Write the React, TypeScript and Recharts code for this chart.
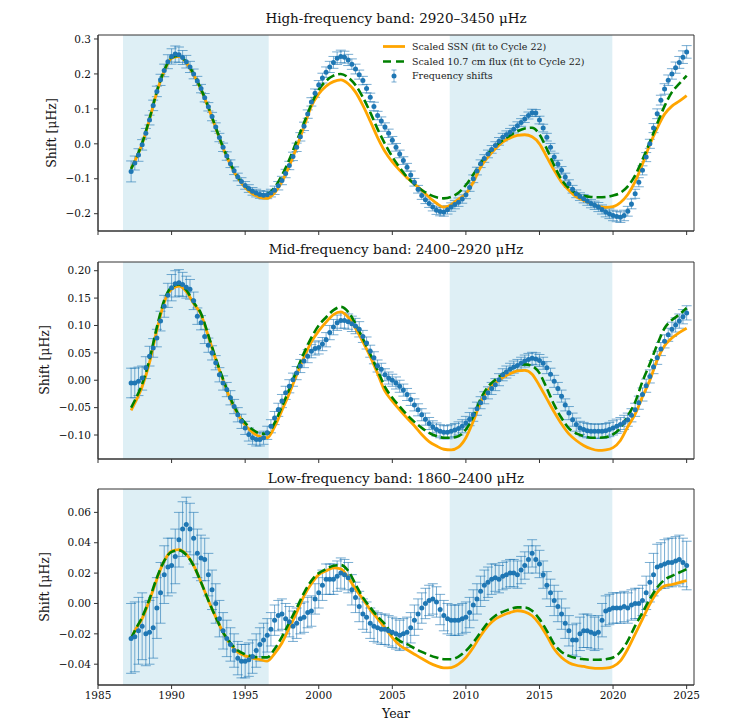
import React from "react";
import {
  ComposedChart,
  XAxis,
  YAxis,
  Scatter,
  Line,
  ErrorBar,
  ReferenceArea,
} from "recharts";

// ---------- categories ----------
const quarterYears = [
  1987.25, 1987.5, 1987.75,
  1988.0, 1988.25, 1988.5, 1988.75,
  1989.0, 1989.25, 1989.5, 1989.75,
  1990.0, 1990.25, 1990.5, 1990.75,
  1991.0, 1991.25, 1991.5, 1991.75,
  1992.0, 1992.25, 1992.5, 1992.75,
  1993.0, 1993.25, 1993.5, 1993.75,
  1994.0, 1994.25, 1994.5, 1994.75,
  1995.0, 1995.25, 1995.5, 1995.75,
  1996.0, 1996.25, 1996.5, 1996.75,
  1997.0, 1997.25, 1997.5, 1997.75,
  1998.0, 1998.25, 1998.5, 1998.75,
  1999.0, 1999.25, 1999.5, 1999.75,
  2000.0, 2000.25, 2000.5, 2000.75,
  2001.0, 2001.25, 2001.5, 2001.75,
  2002.0, 2002.25, 2002.5, 2002.75,
  2003.0, 2003.25, 2003.5, 2003.75,
  2004.0, 2004.25, 2004.5, 2004.75,
  2005.0, 2005.25, 2005.5, 2005.75,
  2006.0, 2006.25, 2006.5, 2006.75,
  2007.0, 2007.25, 2007.5, 2007.75,
  2008.0, 2008.25, 2008.5, 2008.75,
  2009.0, 2009.25, 2009.5, 2009.75,
  2010.0, 2010.25, 2010.5, 2010.75,
  2011.0, 2011.25, 2011.5, 2011.75,
  2012.0, 2012.25, 2012.5, 2012.75,
  2013.0, 2013.25, 2013.5, 2013.75,
  2014.0, 2014.25, 2014.5, 2014.75,
  2015.0, 2015.25, 2015.5, 2015.75,
  2016.0, 2016.25, 2016.5, 2016.75,
  2017.0, 2017.25, 2017.5, 2017.75,
  2018.0, 2018.25, 2018.5, 2018.75,
  2019.0, 2019.25, 2019.5, 2019.75,
  2020.0, 2020.25, 2020.5, 2020.75,
  2021.0, 2021.25, 2021.5, 2021.75,
  2022.0, 2022.25, 2022.5, 2022.75,
  2023.0, 2023.25, 2023.5, 2023.75,
  2024.0, 2024.25, 2024.5, 2024.75,
  2025.0,
];

const lineYears = [
  1987.25, 1987.5,
  1988, 1988.5, 1989, 1989.5, 1990, 1990.5, 1991, 1991.5, 1992, 1992.5,
  1993, 1993.5, 1994, 1994.5, 1995, 1995.5, 1996, 1996.5, 1997, 1997.5,
  1998, 1998.5, 1999, 1999.5, 2000, 2000.5, 2001, 2001.5, 2002, 2002.5,
  2003, 2003.5, 2004, 2004.5, 2005, 2005.5, 2006, 2006.5, 2007, 2007.5,
  2008, 2008.5, 2009, 2009.5, 2010, 2010.5, 2011, 2011.5, 2012, 2012.5,
  2013, 2013.5, 2014, 2014.5, 2015, 2015.5, 2016, 2016.5, 2017, 2017.5,
  2018, 2018.5, 2019, 2019.5, 2020, 2020.5, 2021, 2021.5, 2022, 2022.5,
  2023, 2023.5, 2024, 2024.5, 2025,
];

const yearTicks = [1985, 1990, 1995, 2000, 2005, 2010, 2015, 2020, 2025];

const minimaSpans = [
  [1986.7, 1996.6],
  [2008.9, 2019.95],
];

// ---------- high-frequency band ----------
const highShift = [
  -0.079, -0.055, -0.032,
  -0.003, 0.03, 0.068, 0.11,
  0.15, 0.183, 0.21, 0.235,
  0.25, 0.257, 0.255, 0.247,
  0.235, 0.22, 0.2, 0.18,
  0.158, 0.132, 0.106, 0.078,
  0.048, 0.018, -0.01, -0.035,
  -0.057, -0.077, -0.095, -0.108,
  -0.119, -0.128, -0.136, -0.141,
  -0.145, -0.147, -0.146, -0.141,
  -0.133, -0.12, -0.105, -0.085,
  -0.062, -0.036, -0.01, 0.02,
  0.05, 0.085, 0.12, 0.145,
  0.168, 0.188, 0.205, 0.22,
  0.233, 0.245, 0.25, 0.248,
  0.24, 0.228, 0.214, 0.198,
  0.181, 0.158, 0.133, 0.107,
  0.081, 0.065, 0.048, 0.03,
  0.01, -0.01, -0.029, -0.048,
  -0.067, -0.089, -0.11, -0.13,
  -0.148, -0.16, -0.171, -0.181,
  -0.19, -0.194, -0.195, -0.189,
  -0.181, -0.174, -0.167, -0.158,
  -0.146, -0.125, -0.1, -0.078,
  -0.057, -0.042, -0.029, -0.016,
  -0.005, 0.007, 0.019, 0.026,
  0.033, 0.042, 0.052, 0.061,
  0.071, 0.081, 0.089, 0.088,
  0.068, 0.045, 0.019, -0.01,
  -0.038, -0.058, -0.076, -0.095,
  -0.114, -0.13, -0.143, -0.151,
  -0.157, -0.164, -0.171, -0.176,
  -0.181, -0.188, -0.195, -0.2,
  -0.205, -0.208, -0.21, -0.205,
  -0.193, -0.172, -0.143, -0.11,
  -0.076, -0.038, 0.0, 0.045,
  0.086, 0.125, 0.157, 0.182,
  0.2, 0.218, 0.233, 0.248,
  0.263,
];
const highErr = [
  0.03, 0.02, 0.018,
  0.015, 0.014, 0.014, 0.015,
  0.015, 0.016, 0.018, 0.02,
  0.022, 0.023, 0.022, 0.02,
  0.018, 0.016, 0.014, 0.013,
  0.012, 0.012, 0.012, 0.012,
  0.012, 0.012, 0.012, 0.012,
  0.011, 0.011, 0.011, 0.011,
  0.011, 0.011, 0.011, 0.011,
  0.011, 0.011, 0.011, 0.011,
  0.012, 0.012, 0.012, 0.012,
  0.012, 0.012, 0.012, 0.012,
  0.012, 0.012, 0.012, 0.012,
  0.013, 0.014, 0.015, 0.016,
  0.017, 0.018, 0.018, 0.017,
  0.016, 0.015, 0.014, 0.013,
  0.012, 0.012, 0.012, 0.012,
  0.012, 0.012, 0.012, 0.012,
  0.011, 0.011, 0.011, 0.011,
  0.011, 0.011, 0.011, 0.011,
  0.011, 0.011, 0.011, 0.011,
  0.012, 0.012, 0.012, 0.012,
  0.012, 0.012, 0.012, 0.012,
  0.011, 0.011, 0.011, 0.011,
  0.011, 0.011, 0.011, 0.011,
  0.011, 0.011, 0.011, 0.011,
  0.011, 0.011, 0.011, 0.011,
  0.01, 0.01, 0.01, 0.01,
  0.011, 0.011, 0.011, 0.011,
  0.011, 0.011, 0.011, 0.011,
  0.011, 0.011, 0.011, 0.011,
  0.012, 0.012, 0.012, 0.012,
  0.013, 0.013, 0.014, 0.014,
  0.015, 0.015, 0.015, 0.015,
  0.014, 0.014, 0.013, 0.013,
  0.013, 0.013, 0.013, 0.013,
  0.014, 0.014, 0.015, 0.015,
  0.015, 0.016, 0.017, 0.018,
  0.018,
];
const highSSN = [
  -0.07, -0.05,
  0.0, 0.07, 0.148, 0.208, 0.245, 0.25, 0.232, 0.198, 0.155, 0.103,
  0.045, -0.012, -0.06, -0.098, -0.125, -0.143, -0.153, -0.156, -0.14, -0.108,
  -0.063, -0.01, 0.05, 0.108, 0.143, 0.165, 0.178, 0.183, 0.172, 0.148,
  0.11, 0.065, 0.018, -0.022, -0.052, -0.076, -0.097, -0.115, -0.133, -0.153,
  -0.17, -0.181, -0.174, -0.158, -0.143, -0.11, -0.067, -0.038, -0.014, 0.005,
  0.017, 0.024, 0.026, 0.02, 0.0, -0.038, -0.076, -0.11, -0.133, -0.152,
  -0.162, -0.171, -0.179, -0.182, -0.18, -0.168, -0.145, -0.108, -0.058, -0.002,
  0.045, 0.085, 0.108, 0.122, 0.138,
];
const highFlux = [
  -0.072, -0.05,
  0.002, 0.072, 0.15, 0.21, 0.247, 0.252, 0.234, 0.2, 0.157, 0.105,
  0.047, -0.01, -0.057, -0.095, -0.12, -0.137, -0.145, -0.143, -0.125, -0.09,
  -0.045, 0.008, 0.06, 0.113, 0.155, 0.18, 0.195, 0.2, 0.19, 0.168,
  0.133, 0.09, 0.042, 0.0, -0.037, -0.068, -0.095, -0.115, -0.132, -0.145,
  -0.153, -0.156, -0.152, -0.14, -0.118, -0.088, -0.055, -0.028, -0.007, 0.01,
  0.024, 0.036, 0.044, 0.046, 0.027, -0.015, -0.062, -0.102, -0.127, -0.142,
  -0.149, -0.152, -0.153, -0.152, -0.148, -0.14, -0.122, -0.09, -0.045, 0.005,
  0.058, 0.108, 0.148, 0.172, 0.195,
];
const highTicks = [-0.2, -0.1, 0.0, 0.1, 0.2, 0.3];

// ---------- mid-frequency band ----------
const midShift = [
  -0.005, -0.005, -0.002,
  0.004, 0.023, 0.044, 0.059,
  0.077, 0.108, 0.135, 0.155,
  0.169, 0.176, 0.178, 0.175,
  0.17, 0.166, 0.145, 0.117,
  0.105, 0.08, 0.064, 0.05,
  0.032, 0.01, -0.005, -0.017,
  -0.032, -0.048, -0.063, -0.075,
  -0.087, -0.099, -0.105, -0.108,
  -0.108, -0.105, -0.096, -0.084,
  -0.069, -0.054, -0.038, -0.023,
  -0.011, 0.001, 0.013, 0.026,
  0.035, 0.044, 0.053, 0.058,
  0.06, 0.066, 0.074, 0.087,
  0.097, 0.105, 0.109, 0.109,
  0.107, 0.103, 0.099, 0.093,
  0.08, 0.068, 0.053, 0.041,
  0.026, 0.02, 0.01, 0.004,
  0.0, -0.005, -0.011, -0.018,
  -0.026, -0.035, -0.045, -0.054,
  -0.063, -0.071, -0.079, -0.085,
  -0.09, -0.093, -0.095, -0.095,
  -0.093, -0.091, -0.088, -0.084,
  -0.078, -0.071, -0.063, -0.052,
  -0.041, -0.032, -0.023, -0.015,
  -0.008, 0.001, 0.01, 0.015,
  0.02, 0.024, 0.027, 0.031,
  0.035, 0.038, 0.04, 0.039,
  0.036, 0.031, 0.023, 0.011,
  -0.002, -0.015, -0.029, -0.045,
  -0.06, -0.072, -0.081, -0.087,
  -0.09, -0.092, -0.093, -0.093,
  -0.093, -0.093, -0.092, -0.09,
  -0.087, -0.084, -0.081, -0.077,
  -0.072, -0.064, -0.054, -0.041,
  -0.026, -0.01, 0.007, 0.024,
  0.041, 0.057, 0.071, 0.083,
  0.093, 0.101, 0.108, 0.116,
  0.123,
];
const midErr = [
  0.027, 0.027, 0.026,
  0.022, 0.02, 0.018, 0.017,
  0.016, 0.018, 0.02, 0.022,
  0.024, 0.024, 0.024, 0.022,
  0.02, 0.018, 0.016, 0.015,
  0.013, 0.013, 0.013, 0.013,
  0.013, 0.013, 0.013, 0.013,
  0.013, 0.013, 0.013, 0.013,
  0.012, 0.012, 0.012, 0.012,
  0.012, 0.012, 0.012, 0.012,
  0.012, 0.012, 0.012, 0.012,
  0.012, 0.012, 0.012, 0.012,
  0.012, 0.012, 0.012, 0.012,
  0.012, 0.012, 0.013, 0.013,
  0.014, 0.014, 0.014, 0.014,
  0.014, 0.014, 0.014, 0.014,
  0.011, 0.011, 0.011, 0.011,
  0.011, 0.011, 0.011, 0.011,
  0.011, 0.011, 0.011, 0.011,
  0.011, 0.011, 0.011, 0.011,
  0.011, 0.011, 0.011, 0.011,
  0.012, 0.012, 0.012, 0.012,
  0.012, 0.012, 0.012, 0.012,
  0.012, 0.012, 0.012, 0.012,
  0.011, 0.011, 0.011, 0.011,
  0.011, 0.011, 0.011, 0.011,
  0.011, 0.011, 0.011, 0.011,
  0.011, 0.011, 0.011, 0.011,
  0.011, 0.011, 0.011, 0.011,
  0.011, 0.011, 0.011, 0.011,
  0.012, 0.012, 0.012, 0.012,
  0.013, 0.013, 0.013, 0.013,
  0.013, 0.013, 0.013, 0.013,
  0.013, 0.013, 0.013, 0.013,
  0.012, 0.012, 0.012, 0.012,
  0.012, 0.012, 0.012, 0.012,
  0.012, 0.012, 0.012, 0.012,
  0.013, 0.013, 0.013, 0.013,
  0.013,
];
const midSSN = [
  -0.055, -0.042,
  -0.012, 0.032, 0.092, 0.142, 0.166, 0.172, 0.162, 0.14, 0.12, 0.08,
  0.038, 0.0, -0.035, -0.062, -0.082, -0.095, -0.103, -0.105, -0.085, -0.055,
  -0.024, 0.01, 0.042, 0.07, 0.09, 0.106, 0.12, 0.125, 0.115, 0.095,
  0.07, 0.043, 0.012, -0.02, -0.038, -0.054, -0.069, -0.083, -0.099, -0.112,
  -0.12, -0.126, -0.127, -0.122, -0.105, -0.075, -0.04, -0.018, -0.005, 0.005,
  0.012, 0.017, 0.018, 0.011, -0.01, -0.034, -0.058, -0.08, -0.098, -0.11,
  -0.119, -0.125, -0.128, -0.127, -0.123, -0.11, -0.085, -0.062, -0.03, 0.0,
  0.037, 0.063, 0.077, 0.087, 0.095,
];
const midFlux = [
  -0.05, -0.037,
  -0.007, 0.038, 0.097, 0.146, 0.17, 0.175, 0.165, 0.142, 0.122, 0.082,
  0.04, 0.002, -0.033, -0.06, -0.078, -0.09, -0.097, -0.098, -0.078, -0.048,
  -0.016, 0.018, 0.05, 0.078, 0.1, 0.115, 0.128, 0.134, 0.125, 0.103,
  0.076, 0.048, 0.018, -0.012, -0.032, -0.048, -0.063, -0.076, -0.087, -0.096,
  -0.102, -0.105, -0.105, -0.102, -0.09, -0.066, -0.034, -0.012, 0.001, 0.011,
  0.02, 0.026, 0.029, 0.026, 0.013, -0.015, -0.045, -0.069, -0.088, -0.097,
  -0.102, -0.105, -0.105, -0.104, -0.099, -0.087, -0.065, -0.04, -0.002, 0.03,
  0.065, 0.095, 0.11, 0.12, 0.132,
];
const midTicks = [-0.1, -0.05, 0.0, 0.05, 0.1, 0.15, 0.2];

// ---------- low-frequency band ----------
const lowShift = [
  -0.023, -0.022, -0.018,
  -0.015, -0.02, -0.019, -0.016,
  -0.003, 0.007, 0.019, 0.024,
  0.025, 0.031, 0.042, 0.049,
  0.052, 0.049, 0.043, 0.033,
  0.03, 0.029, 0.019, 0.009,
  0.0, -0.01, -0.018, -0.023,
  -0.027, -0.031, -0.036, -0.038,
  -0.038, -0.037, -0.035, -0.031,
  -0.027, -0.024, -0.021, -0.017,
  -0.011, -0.008, -0.007, -0.01,
  -0.012, -0.015, -0.013, -0.01,
  -0.009, -0.006, -0.005, 0.003,
  0.007, 0.012, 0.016, 0.016,
  0.016, 0.018, 0.02, 0.019,
  0.017, 0.009, 0.004, -0.002,
  -0.007, -0.009, -0.013, -0.015,
  -0.016, -0.017, -0.017, -0.018,
  -0.019, -0.02, -0.021, -0.02,
  -0.019, -0.016, -0.011, -0.007,
  -0.003, 0.0, 0.002, 0.003,
  0.001, -0.004, -0.008, -0.01,
  -0.011, -0.011, -0.011, -0.01,
  -0.009, -0.006, -0.001, 0.003,
  0.008, 0.012, 0.014, 0.016,
  0.017, 0.016, 0.018, 0.019,
  0.02, 0.02, 0.019, 0.022,
  0.025, 0.029, 0.033, 0.029,
  0.026, 0.019, 0.012, 0.007,
  0.002, -0.002, -0.007, -0.013,
  -0.018, -0.024, -0.024, -0.02,
  -0.018, -0.018, -0.019, -0.02,
  -0.019, -0.011, -0.005, -0.004,
  -0.003, -0.003, -0.003, -0.002,
  -0.003, -0.001, 0.0, 0.0,
  0.002, 0.007, 0.014, 0.019,
  0.024, 0.025, 0.026, 0.027,
  0.027, 0.028, 0.029, 0.027,
  0.025,
];
const lowErr = [
  0.023, 0.023, 0.022,
  0.022, 0.021, 0.021, 0.02,
  0.02, 0.02, 0.019, 0.019,
  0.018, 0.018, 0.018, 0.018,
  0.018, 0.017, 0.017, 0.016,
  0.015, 0.014, 0.014, 0.013,
  0.013, 0.012, 0.012, 0.012,
  0.011, 0.011, 0.011, 0.011,
  0.011, 0.011, 0.011, 0.011,
  0.011, 0.011, 0.011, 0.011,
  0.01, 0.01, 0.01, 0.01,
  0.01, 0.01, 0.01, 0.01,
  0.01, 0.01, 0.01, 0.01,
  0.01, 0.01, 0.01, 0.01,
  0.01, 0.01, 0.01, 0.01,
  0.01, 0.01, 0.01, 0.01,
  0.01, 0.01, 0.01, 0.01,
  0.01, 0.01, 0.01, 0.01,
  0.01, 0.01, 0.01, 0.01,
  0.01, 0.01, 0.01, 0.01,
  0.01, 0.01, 0.01, 0.01,
  0.01, 0.01, 0.01, 0.01,
  0.01, 0.01, 0.01, 0.01,
  0.01, 0.01, 0.01, 0.01,
  0.01, 0.01, 0.01, 0.01,
  0.009, 0.009, 0.009, 0.009,
  0.009, 0.009, 0.009, 0.009,
  0.009, 0.009, 0.009, 0.009,
  0.009, 0.009, 0.009, 0.009,
  0.01, 0.01, 0.01, 0.01,
  0.01, 0.01, 0.011, 0.011,
  0.011, 0.011, 0.011, 0.011,
  0.011, 0.011, 0.01, 0.01,
  0.01, 0.01, 0.01, 0.01,
  0.01, 0.01, 0.01, 0.01,
  0.01, 0.011, 0.013, 0.014,
  0.015, 0.015, 0.016, 0.016,
  0.016, 0.016, 0.016, 0.016,
  0.016,
];
const lowSSN = [
  -0.0235, -0.018,
  -0.01, 0.002, 0.016, 0.028, 0.0345, 0.0355, 0.0325, 0.025, 0.014, 0.002,
  -0.009, -0.019, -0.027, -0.032, -0.0345, -0.036, -0.037, -0.038, -0.033, -0.026,
  -0.016, -0.006, 0.005, 0.013, 0.019, 0.0215, 0.0235, 0.0228, 0.017, 0.0095,
  0.003, -0.004, -0.01, -0.016, -0.0225, -0.0275, -0.0305, -0.0334, -0.0363, -0.039,
  -0.0411, -0.0424, -0.0422, -0.04, -0.0356, -0.029, -0.0213, -0.0147, -0.0103, -0.0077,
  -0.006, -0.0048, -0.0055, -0.0081, -0.0136, -0.0213, -0.03, -0.0356, -0.039, -0.0407,
  -0.0415, -0.0424, -0.0428, -0.0426, -0.0415, -0.0378, -0.03, -0.0202, -0.0103, -0.0004,
  0.0073, 0.0116, 0.0125, 0.0138, 0.015,
];
const lowFlux = [
  -0.023, -0.018,
  -0.009, 0.003, 0.017, 0.028, 0.034, 0.035, 0.032, 0.025, 0.014, 0.002,
  -0.009, -0.019, -0.026, -0.031, -0.0335, -0.035, -0.0355, -0.0355, -0.03, -0.022,
  -0.0125, -0.003, 0.007, 0.015, 0.02, 0.0226, 0.0248, 0.0253, 0.0215, 0.0127,
  0.004, -0.0026, -0.0086, -0.0136, -0.0205, -0.0246, -0.0268, -0.0295, -0.0319, -0.034,
  -0.0356, -0.0367, -0.0367, -0.035, -0.0312, -0.0257, -0.019, -0.0125, -0.0081, -0.0055,
  -0.0037, -0.0026, -0.0026, -0.0048, -0.0103, -0.018, -0.0268, -0.0319, -0.0345, -0.036,
  -0.0367, -0.0371, -0.0371, -0.0367, -0.0356, -0.0319, -0.0246, -0.0147, -0.006, 0.0029,
  0.0105, 0.0156, 0.0182, 0.0204, 0.0226,
];
const lowTicks = [-0.04, -0.02, 0.0, 0.02, 0.04, 0.06];

const titles = [
  "High-frequency band: 2920–3450 μHz",
  "Mid-frequency band: 2400–2920 μHz",
  "Low-frequency band: 1860–2400 μHz",
];
const legendLabels = [
  "Scaled SSN (fit to Cycle 22)",
  "Scaled 10.7 cm flux (fit to Cycle 22)",
  "Frequency shifts",
];

// ---------- styling ----------
const FONT = "DejaVu Serif";
const C_DOT = "#1f77b4";
const C_SSN = "#ffa500";
const C_FLUX = "#008000";
const C_AXIS = "#333333";
const X_DOMAIN: [number, number] = [1985, 2025.5];

const fmt = (d: number) => (v: number) => {
  const s = Math.abs(v).toFixed(d);
  return v < -1e-9 ? "\u2212" + s : s;
};

const Dot = (p: any) => <circle cx={p.cx} cy={p.cy} r={2.5} fill={C_DOT} />;

type PanelProps = {
  top: number;
  plotH: number;
  shift: number[];
  err: number[];
  ssn: number[];
  flux: number[];
  ticks: number[];
  domain: [number, number];
  decimals: number;
  showXLabels: boolean;
};

function Panel(props: PanelProps) {
  const { top, plotH, shift, err, ssn, flux, ticks, domain, decimals, showXLabels } = props;
  const pts = quarterYears.map((x, i) => ({ x, y: shift[i], err: err[i] }));
  const ssnData = lineYears.map((x, i) => ({ x, y: ssn[i] }));
  const fluxData = lineYears.map((x, i) => ({ x, y: flux[i] }));
  const mTop = 10;
  const xH = showXLabels ? 30 : 20;
  return (
    <div style={{ position: "absolute", left: 0, top: top - mTop }}>
      <ComposedChart
        width={729}
        height={mTop + plotH + xH}
        margin={{ top: mTop, right: 35, bottom: 0, left: 0 }}
      >
        <XAxis
          type="number"
          dataKey="x"
          domain={X_DOMAIN}
          ticks={yearTicks}
          allowDataOverflow
          height={xH}
          tickSize={4}
          tickMargin={3}
          stroke={C_AXIS}
          tick={{ fill: "#111", fontSize: 10.5, fontFamily: FONT }}
          tickFormatter={(v: number) => (showXLabels ? String(v) : "")}
        />
        <YAxis
          type="number"
          dataKey="y"
          domain={domain}
          ticks={ticks}
          allowDataOverflow
          width={98}
          tickSize={4}
          tickMargin={3}
          stroke={C_AXIS}
          tick={{ fill: "#111", fontSize: 10.5, fontFamily: FONT }}
          tickFormatter={fmt(decimals)}
        />
        {minimaSpans.map((s, i) => (
          <ReferenceArea
            key={i}
            x1={s[0]}
            x2={s[1]}
            y1={domain[0]}
            y2={domain[1]}
            fill="#add8e6"
            fillOpacity={0.4}
            stroke="none"
          />
        ))}
        <Scatter data={pts} dataKey="y" fill={C_DOT} shape={Dot} isAnimationActive={false}>
          <ErrorBar
            dataKey="err"
            direction="y"
            width={5}
            stroke={C_DOT}
            strokeOpacity={0.6}
            strokeWidth={1}
            isAnimationActive={false}
          />
        </Scatter>
        <Line
          data={ssnData}
          dataKey="y"
          type="monotone"
          stroke={C_SSN}
          strokeWidth={2.8}
          dot={false}
          activeDot={false}
          isAnimationActive={false}
        />
        <Line
          data={fluxData}
          dataKey="y"
          type="monotone"
          stroke={C_FLUX}
          strokeWidth={2.6}
          strokeDasharray="9 4"
          dot={false}
          activeDot={false}
          isAnimationActive={false}
        />
        <ReferenceArea
          x1={X_DOMAIN[0]}
          x2={X_DOMAIN[1]}
          y1={domain[0]}
          y2={domain[1]}
          fill="none"
          stroke={C_AXIS}
          strokeWidth={1}
        />
      </ComposedChart>
    </div>
  );
}

const textBase: React.CSSProperties = {
  position: "absolute",
  fontFamily: FONT,
  color: "#111",
  whiteSpace: "nowrap",
};

function Title({ text, cy }: { text: string; cy: number }) {
  return (
    <div
      style={{
        ...textBase,
        left: 98,
        width: 596,
        textAlign: "center",
        top: cy - 9,
        height: 18,
        lineHeight: "18px",
        fontSize: 13.5,
      }}
    >
      {text}
    </div>
  );
}

function YLabel({ cx, cy }: { cx: number; cy: number }) {
  return (
    <div
      style={{
        ...textBase,
        left: cx - 50,
        top: cy - 8,
        width: 100,
        height: 16,
        lineHeight: "16px",
        textAlign: "center",
        fontSize: 12.5,
        transform: "rotate(-90deg)",
      }}
    >
      Shift [μHz]
    </div>
  );
}

function Legend() {
  const rows = [46.5, 61.5, 76];
  return (
    <svg
      width={250}
      height={50}
      style={{ position: "absolute", left: 375, top: 37 }}
      viewBox="375 37 250 50"
    >
      <line x1={383} x2={405} y1={rows[0]} y2={rows[0]} stroke={C_SSN} strokeWidth={2.8} />
      <line
        x1={383}
        x2={405}
        y1={rows[1]}
        y2={rows[1]}
        stroke={C_FLUX}
        strokeWidth={2.6}
        strokeDasharray="8 5"
      />
      <g stroke={C_DOT} strokeOpacity={0.6} strokeWidth={1}>
        <line x1={394} x2={394} y1={rows[2] - 6} y2={rows[2] + 6} />
        <line x1={391.5} x2={396.5} y1={rows[2] - 6} y2={rows[2] - 6} />
        <line x1={391.5} x2={396.5} y1={rows[2] + 6} y2={rows[2] + 6} />
      </g>
      <circle cx={394} cy={rows[2]} r={2.5} fill={C_DOT} />
      {legendLabels.map((t, i) => (
        <text
          key={i}
          x={412}
          y={rows[i]}
          dy="0.35em"
          fontFamily={FONT}
          fontSize={9.5}
          fill="#222"
        >
          {t}
        </text>
      ))}
    </svg>
  );
}

export default function App() {
  return (
    <div
      style={{
        position: "absolute",
        left: 0,
        top: 0,
        width: 729,
        height: 726,
        background: "#fff",
        overflow: "hidden",
      }}
    >
      <Panel
        top={35}
        plotH={196}
        shift={highShift}
        err={highErr}
        ssn={highSSN}
        flux={highFlux}
        ticks={highTicks}
        domain={[-0.2495, 0.3114]}
        decimals={1}
        showXLabels={false}
      />
      <Panel
        top={262}
        plotH={197}
        shift={midShift}
        err={midErr}
        ssn={midSSN}
        flux={midFlux}
        ticks={midTicks}
        domain={[-0.1438, 0.2159]}
        decimals={2}
        showXLabels={false}
      />
      <Panel
        top={489}
        plotH={196}
        shift={lowShift}
        err={lowErr}
        ssn={lowSSN}
        flux={lowFlux}
        ticks={lowTicks}
        domain={[-0.0537, 0.0754]}
        decimals={2}
        showXLabels={true}
      />
      <Title text={titles[0]} cy={18} />
      <Title text={titles[1]} cy={249} />
      <Title text={titles[2]} cy={478} />
      <YLabel cx={52} cy={133} />
      <YLabel cx={45} cy={360} />
      <YLabel cx={45} cy={587} />
      <div
        style={{
          ...textBase,
          left: 98,
          width: 596,
          textAlign: "center",
          top: 706,
          height: 16,
          lineHeight: "16px",
          fontSize: 12.5,
        }}
      >
        Year
      </div>
      <Legend />
    </div>
  );
}
